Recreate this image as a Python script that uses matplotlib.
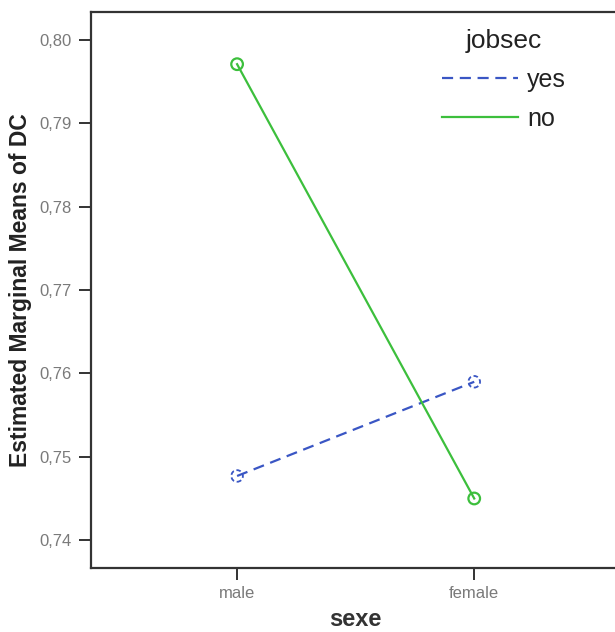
import matplotlib
matplotlib.use("Agg")
import matplotlib.pyplot as plt
import matplotlib.transforms as mtransforms
from matplotlib.ticker import FuncFormatter

plt.rcParams["font.family"] = ["Liberation Sans", "DejaVu Sans"]

# estimated marginal means of DC by sexe, split by jobsec
sexe = ["male", "female"]
jobsec_levels = ["yes", "no"]
dc_yes = [0.7477, 0.7590]
dc_no = [0.7971, 0.7450]

yticks = [0.74, 0.75, 0.76, 0.77, 0.78, 0.79, 0.80]

BLUE = "#3a56c4"
GREEN = "#3cbf3c"

fig = plt.figure(figsize=(6.15, 6.32), dpi=100)
# axes runs past the right edge, so no right spine shows
ax = fig.add_axes([0.148, 0.101, 0.893, 0.880])

xpos = list(range(len(sexe)))
ax.plot(xpos, dc_yes, color=BLUE, linestyle=(0, (5, 3)), linewidth=1.6,
        label=jobsec_levels[0])
ax.scatter(xpos, dc_yes, s=70, facecolors="none", edgecolors=BLUE,
           linewidths=1.3, linestyles=(0, (2.5, 1.5)), zorder=3)
ax.plot(xpos, dc_no, color=GREEN, linestyle="-", linewidth=1.6,
        label=jobsec_levels[1])
ax.scatter(xpos, dc_no, s=70, facecolors="none", edgecolors=GREEN,
           linewidths=1.6, zorder=3)

ax.set_xlim(-0.616, 1.70)
ax.set_ylim(0.73664, 0.80336)
ax.set_xticks(xpos)
ax.set_xticklabels(sexe)
ax.set_yticks(yticks)
ax.yaxis.set_major_formatter(FuncFormatter(lambda v, p: f"{v:.2f}".replace(".", ",")))

for s in ["left", "bottom", "top", "right"]:
    ax.spines[s].set_linewidth(1.6)
    ax.spines[s].set_color("#333333")
ax.tick_params(axis="both", length=8.5, width=1.4, color="#333333",
               labelsize=12, labelcolor="#7a7a7a")
ax.tick_params(axis="y", pad=5.5)
ax.tick_params(axis="x", pad=4)

ax.set_ylabel("Estimated Marginal Means of DC", fontsize=16.5, fontweight="bold",
              color="#222222")
ax.yaxis.set_label_coords(-0.108, 0.5)
ax.set_xlabel("sexe", fontsize=17, fontweight="bold", color="#333333")
# center the x label on the two categories
ax.xaxis.set_label_coords(0.5, -0.071,
                          transform=mtransforms.blended_transform_factory(ax.transData, ax.transAxes))

leg = ax.legend(title="jobsec", loc="upper left", bbox_to_anchor=(0.639, 0.969),
                frameon=False, fontsize=18, title_fontsize=19, handlelength=3.04,
                labelspacing=0.6, handletextpad=0.36, borderpad=0, borderaxespad=0)
for t in leg.get_texts():
    t.set_color("#222222")
leg.get_title().set_color("#222222")

fig.savefig("out.png", dpi=100)
